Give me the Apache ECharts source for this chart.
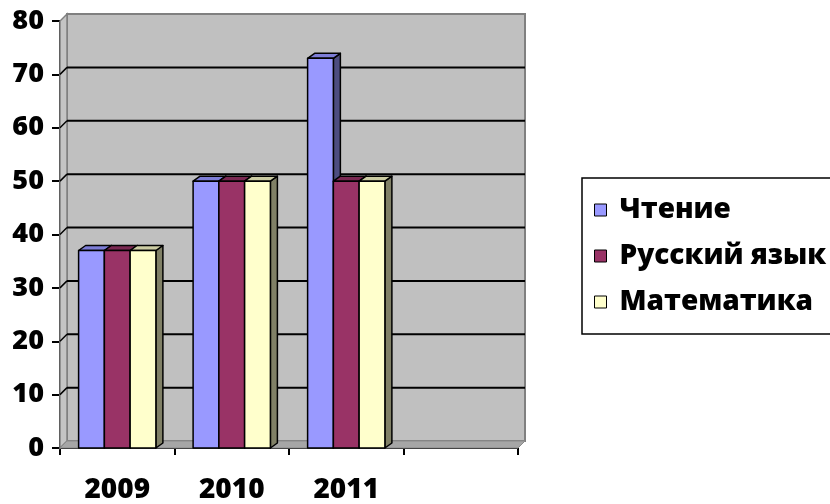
<!DOCTYPE html>
<html><head><meta charset="utf-8">
<script src="https://cdn.jsdelivr.net/npm/echarts@6/dist/echarts.min.js"></script>
<style>html,body{margin:0;padding:0;background:#fff}#c{width:830px;height:504px}</style>
</head><body><div id="c"></div>
<script>
var categories = ['2009', '2010', '2011', ''];
var seriesNames = ['Чтение', 'Русский язык', 'Математика'];
var reading = [37, 50, 73];
var russian = [37, 50, 50];
var maths = [37, 50, 50];
var yTicks = [10, 20, 30, 40, 50, 60, 70];

var FONT = 'Open Sans';
var frontColors = ['#9999ff', '#993366', '#ffffcc'];
var topColors = ['#7d7dd6', '#7a2952', '#cccca3'];
var sideColors = ['#4d4d80', '#4d1a33', '#808066'];
var WD = 7, WH = 7;  // wall depth offset
var BD = 7, BH = 5;  // bar depth offset

function toData(arr){ return arr.map(function(v,i){ return [i, v]; }); }

function barRender(si){
  return function(params, api){
    var ci = api.value(0), v = api.value(1);
    var top = api.coord([ci, v]);
    var base = api.coord([ci, 0]);
    var bw = api.size([1, 0])[0] * 0.225;
    var x = top[0] + (si - 1) * bw - bw / 2;
    var ty = top[1], by = base[1];
    var st = {stroke: '#000', lineWidth: 1.5, lineJoin: 'round'};
    return {type: 'group', children: [
      {type: 'polygon', shape: {points: [[x+bw, ty], [x+bw+BD, ty-BH], [x+bw+BD, by-BH], [x+bw, by]]},
        style: Object.assign({fill: sideColors[si]}, st)},
      {type: 'polygon', shape: {points: [[x, ty], [x+BD, ty-BH], [x+bw+BD, ty-BH], [x+bw, ty]]},
        style: Object.assign({fill: topColors[si]}, st)},
      {type: 'rect', shape: {x: x, y: ty, width: bw, height: by - ty},
        style: Object.assign({fill: frontColors[si]}, st)}
    ]};
  };
}

function wallRender(params, api){
  var cs = params.coordSys;
  var x = cs.x, y = cs.y, w = cs.width, h = cs.height;
  var ch = [];
  ch.push({type: 'rect', shape: {x: x+WD, y: y-WH, width: w, height: h},
    style: {fill: '#c0c0c0', stroke: '#808080', lineWidth: 2}});
  ch.push({type: 'polygon', shape: {points: [[x, y+h], [x, y], [x+WD, y-WH], [x+WD, y+h-WH]]},
    style: {fill: '#c4c4c4', stroke: '#808080', lineWidth: 1.5}});
  yTicks.forEach(function(t){
    var py = api.coord([0, t])[1];
    ch.push({type: 'line', shape: {x1: x+WD, y1: py-WH, x2: x+WD+w, y2: py-WH},
      style: {stroke: '#000', lineWidth: 2}});
    ch.push({type: 'line', shape: {x1: x, y1: py, x2: x+WD, y2: py-WH},
      style: {stroke: '#000', lineWidth: 1.5}});
  });
  ch.push({type: 'polygon', shape: {points: [[x, y+h], [x+WD, y+h-WH], [x+WD+w, y+h-WH], [x+w, y+h]]},
    style: {fill: '#a6a6a6', stroke: '#8a8a8a', lineWidth: 1}});
  return {type: 'group', children: ch};
}

var chart = echarts.init(document.getElementById('c'), null, {renderer: 'canvas'});
chart.setOption({
  animation: false,
  backgroundColor: '#ffffff',
  grid: {left: 60, right: 312, top: 21, bottom: 54},
  legend: {
    orient: 'vertical', left: 582, top: 178,
    data: seriesNames,
    icon: 'rect', itemWidth: 12, itemHeight: 12, itemGap: 18,
    padding: [18, 14, 18, 12],
    borderColor: '#000', borderWidth: 1.5,
    itemStyle: {borderColor: '#000', borderWidth: 1},
    textStyle: {fontFamily: FONT, fontWeight: 800, fontSize: 28, color: '#000', padding: [0, 0, 0, 8]}
  },
  xAxis: {
    type: 'category', data: categories,
    axisLine: {lineStyle: {color: '#000', width: 2}},
    axisTick: {show: true, length: 7, lineStyle: {color: '#000', width: 2}},
    axisLabel: {fontFamily: FONT, fontWeight: 800, fontSize: 28, color: '#000', margin: 28},
    splitLine: {show: false}
  },
  yAxis: {
    type: 'value', min: 0, max: 80, interval: 10,
    axisLine: {show: true, lineStyle: {color: '#000', width: 2}},
    axisTick: {show: true, length: 8, lineStyle: {color: '#000', width: 2}},
    axisLabel: {fontFamily: FONT, fontWeight: 800, fontSize: 27, color: '#000', margin: 16},
    splitLine: {show: false}
  },
  series: [
    {type: 'custom', name: '_walls', z: 1, silent: true, data: [[0, 0]], renderItem: wallRender,
      encode: {x: 0, y: 1}},
    {type: 'custom', name: seriesNames[0], z: 3, data: toData(reading), renderItem: barRender(0),
      itemStyle: {color: frontColors[0]}, encode: {x: 0, y: 1}},
    {type: 'custom', name: seriesNames[1], z: 3, data: toData(russian), renderItem: barRender(1),
      itemStyle: {color: frontColors[1]}, encode: {x: 0, y: 1}},
    {type: 'custom', name: seriesNames[2], z: 3, data: toData(maths), renderItem: barRender(2),
      itemStyle: {color: frontColors[2]}, encode: {x: 0, y: 1}}
  ]
});
</script></body></html>
